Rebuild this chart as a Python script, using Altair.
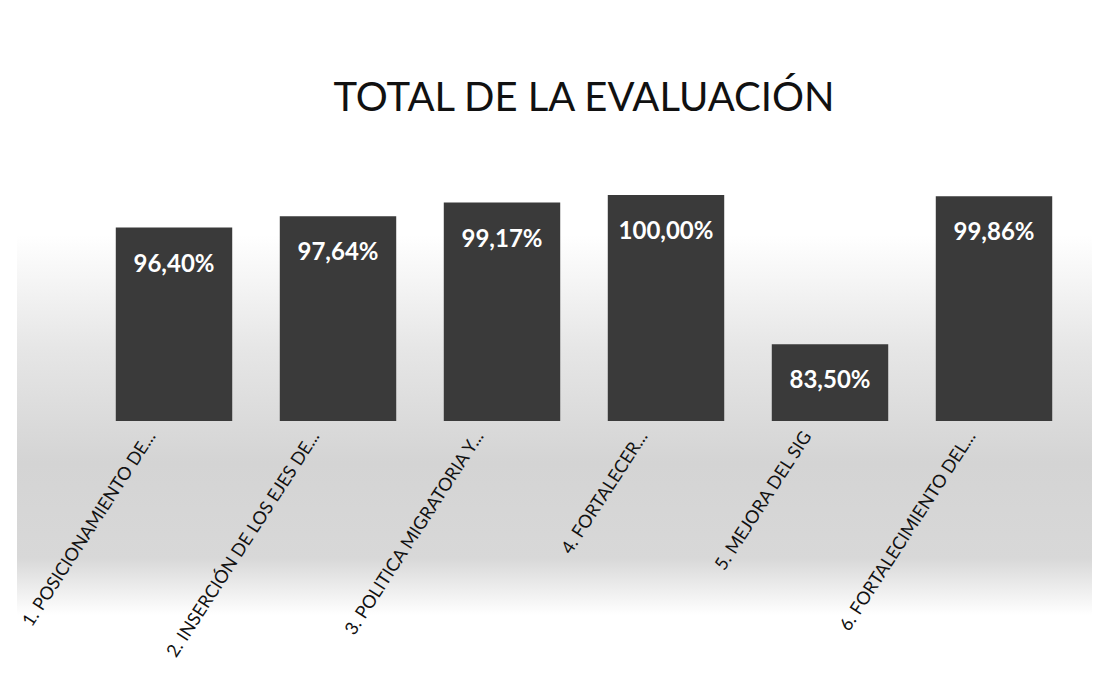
import altair as alt
import pandas as pd

categories = [
    "1. POSICIONAMIENTO DE...",
    "2. INSERCIÓN DE LOS EJES DE...",
    "3. POLITICA MIGRATORIA Y...",
    "4. FORTALECER...",
    "5. MEJORA DEL SIG",
    "6. FORTALECIMIENTO DEL...",
]
values = [96.40, 97.64, 99.17, 100.00, 83.50, 99.86]
labels = [f"{v:.2f}".replace(".", ",") + "%" for v in values]

df = pd.DataFrame({"cat": categories, "val": values, "lab": labels})

FONT = "Lato"

x = alt.X(
    "cat:N",
    sort=None,
    title=None,
    scale=alt.Scale(paddingInner=0.29, paddingOuter=0.145),
    axis=alt.Axis(
        labelAngle=-57,
        labelAlign="right",
        labelBaseline="middle",
        labelFontSize=18,
        labelFont=FONT,
        labelColor="#111111",
        labelPadding=12,
        labelOffset=-22,
        labelLimit=0,
        domain=False,
        ticks=False,
        grid=False,
        zindex=2,
    ),
)
y = alt.Y("val:Q", scale=alt.Scale(domain=[75, 100], zero=False, nice=False), axis=None)

bg = alt.Chart(df).mark_rect(
    fill=alt.Gradient(
        gradient="linear",
        stops=[
            alt.GradientStop(color="#ffffff", offset=0),
            alt.GradientStop(color="#e6e6e6", offset=0.3),
            alt.GradientStop(color="#d4d4d4", offset=0.6),
            alt.GradientStop(color="#d8d8d8", offset=0.85),
            alt.GradientStop(color="#ffffff", offset=1),
        ],
        x1=0, x2=0, y1=0, y2=1,
    ),
    strokeWidth=0,
).encode(
    x=alt.value(-75), x2=alt.value(1000), y=alt.value(40), y2=alt.value(420)
)

bars = alt.Chart(df).mark_bar(color="#3a3a3a").encode(x=x, y=y, y2=alt.datum(75))

text = alt.Chart(df).mark_text(
    color="white", font=FONT, fontWeight="bold", fontSize=24,
    align="center", baseline="middle", dy=37,
).encode(x=x, y=y, text="lab:N")

chart = alt.layer(bg, bars, text).properties(
    width=984,
    height=226,
    view=alt.ViewBackground(stroke="white", strokeWidth=0, strokeOpacity=0),
    title=alt.Title(
        "TOTAL DE LA EVALUACIÓN",
        font=FONT,
        fontSize=40,
        fontWeight="normal",
        color="#111111",
        anchor="middle",
        baseline="alphabetic",
        offset=44,
    ),
    autosize=alt.AutoSizeParams(type="none"),
    padding={"left": 92, "top": 195, "right": 20, "bottom": 272},
).configure_view(stroke="white", strokeWidth=0, strokeOpacity=0).configure(background="white")

chart.save("out.html", embed_options={"renderer": "svg", "actions": False})
